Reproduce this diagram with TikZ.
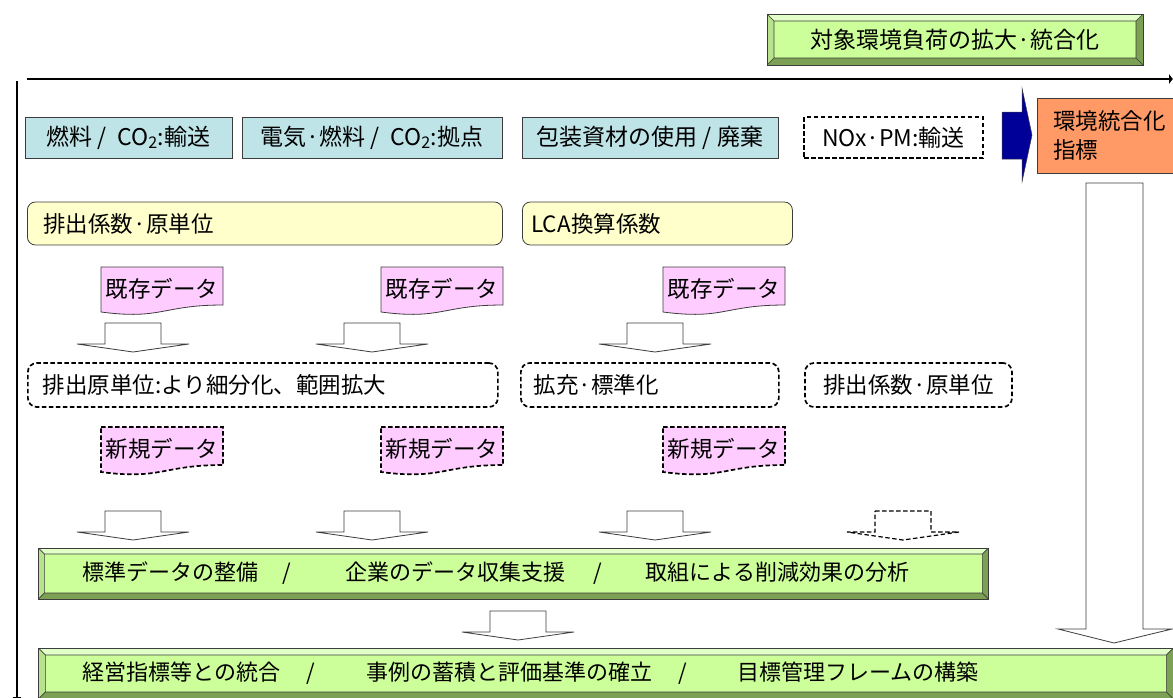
\documentclass[tikz,border=0pt]{standalone}
\usepackage{fontspec}
\setmainfont{Noto Sans CJK JP}
\usetikzlibrary{arrows.meta,calc}
\definecolor{gface}{RGB}{204,255,153}
\definecolor{glight}{RGB}{226,255,200}
\definecolor{gside}{RGB}{184,226,140}
\definecolor{gdark}{RGB}{124,160,84}
\definecolor{bl}{RGB}{191,228,232}
\definecolor{ye}{RGB}{255,255,204}
\definecolor{pk}{RGB}{255,204,255}
\definecolor{orng}{RGB}{255,153,102}
\definecolor{nv}{RGB}{0,0,153}
\definecolor{ln}{RGB}{60,60,60}
% document shape, #2,#3 = top left corner
\newcommand{\datadoc}[5]{%
  \begin{scope}[shift={(#2,#3)}]
    \draw[#4] (0,0) -- (122,0) -- (122,38) .. controls (61,38) and (61,53) .. (0,45) -- cycle;
    \node (#1) at (61,22) {#5};
  \end{scope}}
% outline block arrow pointing down
\newcommand{\hollowdown}[4][]{%
  \draw[hollow,#1] (#2-28,#3) -- (#2+28,#3) -- (#2+28,#4) -- (#2+56,#4)
    -- (#2,#4+8) -- (#2-56,#4) -- (#2-28,#4) -- cycle;}

\begin{document}
\begin{tikzpicture}[x=1pt, y=-1pt,
  every node/.style={font=\fontsize{22.5}{26}\selectfont, inner sep=0pt},
  box/.style={draw=ln, line width=0.8pt, minimum height=41pt},
  bluebox/.style={box, fill=bl, font=\fontsize{23}{27}\selectfont},
  yellowbox/.style={box, fill=ye, rounded corners=8pt, minimum height=43pt},
  dashbox/.style={draw=black, line width=1.7pt, dash pattern=on 4.5pt off 2.5pt, fill=white},
  hollow/.style={draw=ln, line width=0.8pt, fill=white},
  oldd/.style={draw=ln, line width=0.8pt, fill=pk},
  newd/.style={dashbox, fill=pk},
  axis/.style={line width=2.8pt, black},
  bevel/.style={draw=ln, line width=0.8pt, fill=gface,
    path picture={
      \coordinate (q1) at (path picture bounding box.north west);
      \coordinate (q2) at (path picture bounding box.north east);
      \coordinate (q3) at (path picture bounding box.south east);
      \coordinate (q4) at (path picture bounding box.south west);
      \coordinate (r1) at ([shift={(#1,-#1)}]q1);
      \coordinate (r2) at ([shift={(-#1,-#1)}]q2);
      \coordinate (r3) at ([shift={(-#1,#1)}]q3);
      \coordinate (r4) at ([shift={(#1,#1)}]q4);
      \fill[glight] (q1) -- (q2) -- (r2) -- (r1) -- cycle;
      \fill[gside] (q4) -- (q1) -- (r1) -- (r4) -- cycle;
      \fill[gdark] (q2) -- (q3) -- (r3) -- (r2) -- cycle;
      \fill[gdark] (q3) -- (q4) -- (r4) -- (r3) -- cycle;
      \draw[ln, line width=0.6pt] (r1) -- (r2) -- (r3) -- (r4) -- cycle
        (q1) -- (r1) (q2) -- (r2) (q3) -- (r3) (q4) -- (r4);
    }},
  bevel/.default=7pt]
\useasboundingbox (0,0) rectangle (1173,697);

\node[bevel, minimum width=376pt, minimum height=51pt, font=\fontsize{23}{27}\selectfont] (target) at (955,39.5) {対象環境負荷の拡大·統合化};

% axes
\coordinate (hstart) at (27,79);
\coordinate (hend) at (1173,79);
\coordinate (vstart) at (17,81);
\coordinate (vend) at (17,707);
\draw[axis, -{Latex[length=4pt,width=11pt]}] (hstart) -- (hend);
\draw[axis, -{Latex[length=10pt,width=9pt]}] (vstart) -- (vend);

% loads
\node[bluebox, minimum width=207pt] (fuel) at (128.5,137.5) {燃料 / \ CO\textsubscript{2}:輸送};
\node[bluebox, minimum width=260pt] (power) at (372,137.5) {電気·燃料 / \ CO\textsubscript{2}:拠点};
\node[bluebox, minimum width=256pt] (pack) at (650,137.5) {包装資材の使用 / 廃棄};
\node[dashbox, minimum width=179pt, minimum height=41pt, font=\fontsize{23}{27}\selectfont] (nox) at (893.5,137.5) {NOx·PM:輸送};

\fill[nv, draw=ln, line width=0.5pt] (1002,112) -- (1022,112) -- (1022,88) -- (1032,135)
  -- (1022,182) -- (1022,159) -- (1002,159) -- cycle;
\node[box, fill=orng, anchor=north west, minimum height=75pt, text width=110pt, inner xsep=16pt,
  align=left, font=\fontsize{22.5}{29}\selectfont] (index) at (1037,98) {環境統合化\\指標};

\node[yellowbox, anchor=west, text width=443pt, inner xsep=16pt, align=left] (coef) at (27,223.5) {排出係数·原単位};
\node[yellowbox, anchor=west, text width=252pt, inner xsep=9pt, align=left] (lca) at (522,223.5) {LCA換算係数};

\datadoc{old1}{101}{267}{oldd}{既存データ}
\datadoc{old2}{381}{267}{oldd}{既存データ}
\datadoc{old3}{663}{267}{oldd}{既存データ}

\hollowdown{133}{323}{344}
\hollowdown{372}{323}{344}
\hollowdown{655}{323}{344}

\node[dashbox, rounded corners=9pt, minimum height=44pt, anchor=west, text width=440pt, inner xsep=15pt, align=left] (fine) at (27,385) {排出原単位:より細分化、範囲拡大};
\node[dashbox, rounded corners=9pt, minimum height=44pt, anchor=west, text width=232pt, inner xsep=13pt, align=left] (std) at (520,385) {拡充·標準化};
\node[dashbox, rounded corners=9pt, minimum height=44pt, minimum width=207pt] (coef2) at (908.5,385) {排出係数·原単位};

\datadoc{new1}{101}{427}{newd}{新規データ}
\datadoc{new2}{381}{427}{newd}{新規データ}
\datadoc{new3}{663}{427}{newd}{新規データ}

\hollowdown{133}{511}{532}
\hollowdown{372}{511}{532}
\hollowdown{655}{511}{532}
\hollowdown[dashbox, line width=1.2pt]{903}{511}{532}

\node[bevel=6pt, anchor=west, minimum height=51pt, text width=862pt, inner xsep=44pt, align=left, font=\fontsize{22}{26}\selectfont] (stdbar) at (38,573.5)
  {標準データの整備\hspace{24pt}/\hspace{54pt}企業のデータ収集支援\hspace{28pt}/\hspace{44pt}取組による削減効果の分析};

\hollowdown{518}{611}{632}

\node[bevel, anchor=west, minimum height=51pt, text width=1047pt, inner xsep=44pt, align=left, font=\fontsize{22}{26}\selectfont] (mgmtbar) at (38,673.5)
  {経営指標等との統合\hspace{26pt}/\hspace{52pt}事例の蓄積と評価基準の確立\hspace{26pt}/\hspace{50pt}目標管理フレームの構築};

% index flows down
\draw[hollow] (1086,183) -- (1143,183) -- (1143,629) -- (1172,629) -- (1114,643)
  -- (1058,629) -- (1086,629) -- cycle;
\end{tikzpicture}
\end{document}
